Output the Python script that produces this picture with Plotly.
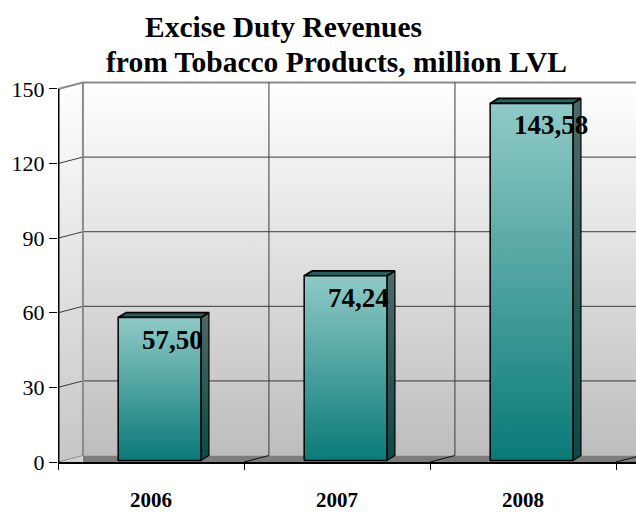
import plotly.graph_objects as go

# ---- data ----
years = ["2006", "2007", "2008"]
revenue = [57.50, 74.24, 143.58]
value_labels = ["57,50", "74,24", "143,58"]
y_ticks = [0, 30, 60, 90, 120, 150]
title_line1 = "Excise Duty Revenues"
title_line2 = "from Tobacco Products, million LVL"

# ---- pseudo-3D box geometry (axis units) ----
X_LEFT, X_RIGHT = -0.5, 2.6075
Y_TOP = 153.6
DX, DY = 0.134, 2.6          # depth of back wall relative to front plane
BAR_W = 0.445                # width of a bar's front face
BAR_SHIFT = 0.046            # bars stand mid-depth
BDX, BDY = 0.043, 2.0        # depth of a bar
BAR_Y0 = 0.6
WALL_END = X_RIGHT + 0.3
boundaries = [-0.5, 0.5, 1.5, 2.5]

SERIF = "Liberation Serif, Times New Roman, serif"
GRID = "#3a3a3a"
EDGE = "#8a8a8a"

fig = go.Figure()


def polygon(xs, ys, color=None, gradient=None, line_color="rgba(0,0,0,0)", line_width=0):
    kw = dict(
        x=list(xs) + [xs[0]], y=list(ys) + [ys[0]], mode="lines", fill="toself",
        line=dict(color=line_color, width=line_width), hoverinfo="skip", showlegend=False,
    )
    if gradient is not None:
        kw["fillgradient"] = dict(type="vertical", colorscale=gradient)
        kw["fillcolor"] = gradient[-1][1]
    else:
        kw["fillcolor"] = color
    fig.add_trace(go.Scatter(**kw))


def segment(x0, y0, x1, y1, color, width):
    fig.add_trace(go.Scatter(x=[x0, x1], y=[y0, y1], mode="lines",
                             line=dict(color=color, width=width),
                             hoverinfo="skip", showlegend=False))


top = y_ticks[-1]

# back wall
polygon([X_LEFT + DX, WALL_END, WALL_END, X_LEFT + DX],
        [DY, DY, top + DY, top + DY],
        gradient=[[0, "#bdbdbd"], [1, "#ffffff"]])
# left side wall
polygon([X_LEFT, X_LEFT, X_LEFT + DX, X_LEFT + DX],
        [0, top, top + DY, DY],
        gradient=[[0, "#c6c6c6"], [1, "#ffffff"]])
# floor
polygon([X_LEFT + DX, WALL_END, WALL_END, X_LEFT + DX], [0, 0, DY, DY], color="#7c7c7c")
polygon([X_LEFT, X_LEFT + DX, X_LEFT + DX], [0, DY, 0], color="#d2d2d2")

# gridlines on back and side walls
for t in y_ticks[1:-1]:
    segment(X_LEFT + DX, t + DY, WALL_END, t + DY, GRID, 1)
    segment(X_LEFT, t, X_LEFT + DX, t + DY, GRID, 1)
segment(X_LEFT + DX, top + DY, WALL_END, top + DY, EDGE, 2)
segment(X_LEFT, top, X_LEFT + DX, top + DY, EDGE, 2)
segment(X_LEFT, 0, X_LEFT + DX, DY, EDGE, 1)
segment(X_LEFT + DX, DY, X_LEFT + DX, top + DY, EDGE, 2)
for b in boundaries[1:]:
    segment(b + DX, DY, b + DX, top + DY, GRID, 1)
    segment(b, 0, b + DX, DY, "#111111", 1)

# bars
for i, v in enumerate(revenue):
    x0 = i + BAR_SHIFT - BAR_W / 2
    x1 = i + BAR_SHIFT + BAR_W / 2
    y0, y1 = BAR_Y0, v + BAR_Y0
    # side face
    polygon([x1, x1 + BDX, x1 + BDX, x1], [y0, y0 + BDY, y1 + BDY, y1],
            gradient=[[0, "#0c4846"], [1, "#4f6967"]], line_color="#000000", line_width=1.2)
    # top face
    polygon([x0, x1, x1 + BDX, x0 + BDX], [y1, y1, y1 + BDY, y1 + BDY],
            color="#24625f", line_color="#000000", line_width=1.8)
    # front face
    polygon([x0, x1, x1, x0], [y0, y0, y1, y1],
            gradient=[[0, "#0a7a77"], [1, "#8fcac7"]], line_color="#000000", line_width=1.5)
    fig.add_annotation(x=x0 + 0.12, y=y1, xref="x", yref="y", text="<b>%s</b>" % value_labels[i],
                       showarrow=False, xanchor="left", yanchor="top", yshift=-5,
                       font=dict(family=SERIF, size=27, color="#000000"))

# front vertical axis line (half of it falls outside the plot area)
segment(X_LEFT, 0, X_LEFT, top, "#000000", 3)

# category labels
for i, yr in enumerate(years):
    fig.add_annotation(x=i, y=-0.10, xref="x", yref="paper", text="<b>%s</b>" % yr,
                       showarrow=False, xanchor="center", yanchor="middle",
                       font=dict(family=SERIF, size=21, color="#000000"))

# title (two lines, each centred on its own)
fig.add_annotation(x=0.391, y=1.14, xref="paper", yref="paper", text="<b>%s</b>" % title_line1,
                   showarrow=False, xanchor="center", yanchor="middle",
                   font=dict(family=SERIF, size=29.5, color="#000000"))
fig.add_annotation(x=0.481, y=1.047, xref="paper", yref="paper", text="<b>%s</b>" % title_line2,
                   showarrow=False, xanchor="center", yanchor="middle",
                   font=dict(family=SERIF, size=29.5, color="#000000"))

fig.update_layout(
    width=636, height=514,
    margin=dict(l=58, r=0, t=80, b=52),
    paper_bgcolor="#ffffff", plot_bgcolor="#ffffff",
    showlegend=False,
    xaxis=dict(range=[X_LEFT, X_RIGHT], showgrid=False, zeroline=False,
               showline=True, linecolor="#000000", linewidth=1.5,
               tickmode="array", tickvals=boundaries, ticktext=[""] * len(boundaries),
               ticks="outside", ticklen=6, tickcolor="#000000", tickwidth=1,
               fixedrange=True),
    yaxis=dict(range=[0, Y_TOP], showgrid=False, zeroline=False, showline=False,
               tickmode="array", tickvals=y_ticks,
               ticks="outside", ticklen=8, tickcolor="#000000", tickwidth=1,
               tickfont=dict(family=SERIF, size=22, color="#000000"),
               fixedrange=True),
)

fig.write_html("out.html")
